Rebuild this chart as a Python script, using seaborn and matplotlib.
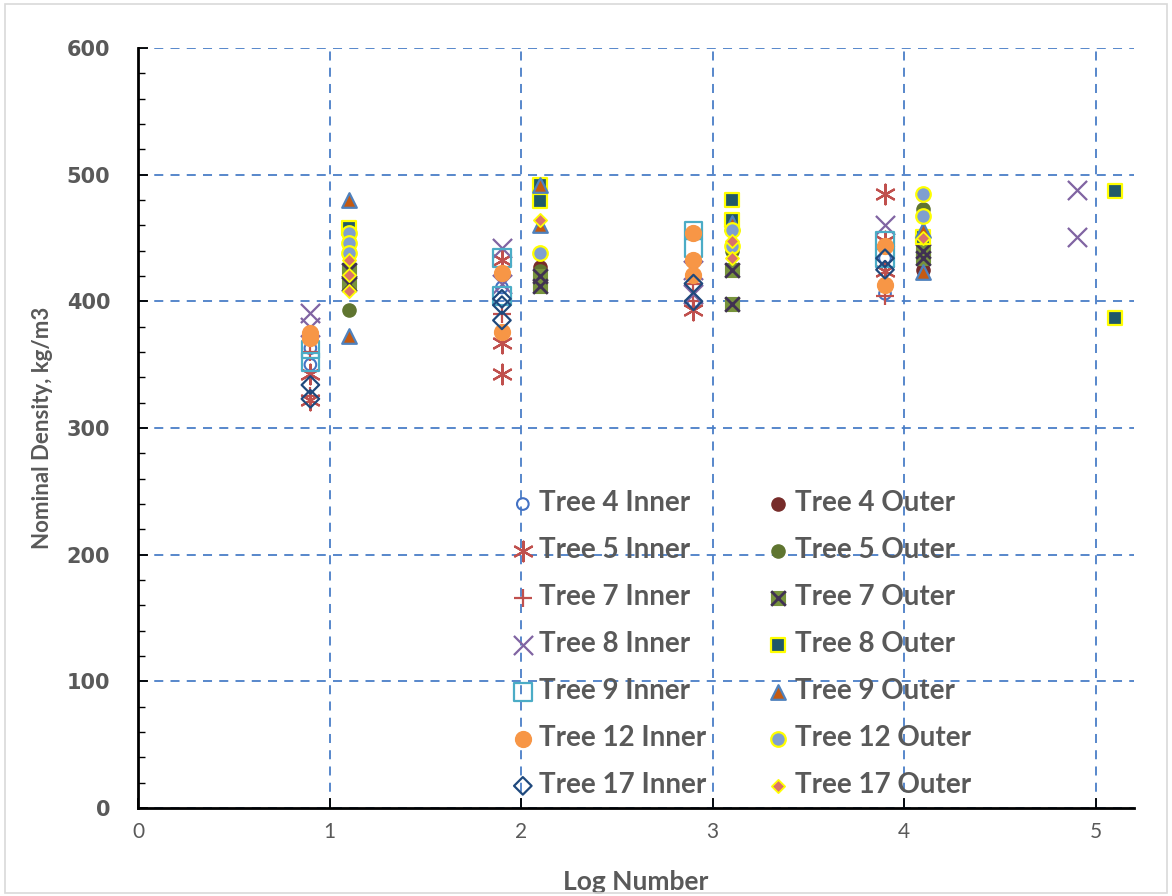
import matplotlib
matplotlib.use("Agg")
import matplotlib.pyplot as plt
import seaborn as sns
from matplotlib.legend_handler import HandlerTuple
from matplotlib.patches import Rectangle
from matplotlib.ticker import MultipleLocator

# ---------------- data ----------------
t4_in_x = [0.9, 0.9, 1.9, 2.9, 3.9, 3.9]
t4_in_y = [363, 350, 411, 400, 434, 406]
t5_in_x = [0.9, 0.9, 1.9, 1.9, 1.9, 2.9, 3.9, 3.9, 3.9]
t5_in_y = [343, 322, 433, 367, 343, 393, 485, 448, 424]
t7_in_x = [0.9, 0.9, 1.9, 2.9, 2.9, 3.9]
t7_in_y = [360, 325, 390, 414, 400, 404]
t8_in_x = [0.9, 0.9, 1.9, 1.9, 2.9, 2.9, 3.9, 4.9, 4.9]
t8_in_y = [391, 380, 442, 414, 425, 406, 460, 488, 451]
t9_in_x = [0.9, 0.9, 1.9, 1.9, 2.9, 2.9, 3.9, 3.9]
t9_in_y = [362, 352, 434, 404, 456, 442, 448, 434]
t12_in_x = [0.9, 0.9, 1.9, 1.9, 2.9, 2.9, 2.9, 3.9, 3.9]
t12_in_y = [375, 371, 422, 376, 454, 433, 421, 444, 413]
t17_in_x = [0.9, 0.9, 1.9, 1.9, 1.9, 2.9, 2.9, 3.9, 3.9]
t17_in_y = [334, 323, 402, 397, 385, 414, 400, 434, 425]

t4_out_x = [2.1, 4.1]
t4_out_y = [427, 425]
t5_out_x = [1.1, 2.1, 2.1, 3.1, 4.1, 4.1]
t5_out_y = [393, 424, 415, 440, 473, 437]
t7_out_x = [1.1, 1.1, 2.1, 2.1, 3.1, 3.1, 4.1, 4.1]
t7_out_y = [425, 414, 420, 412, 425, 398, 440, 434]
t8_out_x = [1.1, 2.1, 2.1, 3.1, 3.1, 4.1, 5.1, 5.1]
t8_out_y = [458, 492, 479, 480, 464, 451, 487, 387]
t9_out_x = [1.1, 1.1, 2.1, 2.1, 3.1, 4.1, 4.1]
t9_out_y = [480, 373, 492, 460, 462, 456, 423]
t12_out_x = [1.1, 1.1, 1.1, 2.1, 3.1, 3.1, 4.1, 4.1]
t12_out_y = [454, 446, 438, 438, 456, 444, 485, 467]
t17_out_x = [1.1, 1.1, 1.1, 2.1, 3.1, 3.1, 4.1]
t17_out_y = [433, 421, 408, 464, 448, 434, 450]

x_ticks = [0, 1, 2, 3, 4, 5]
y_ticks = [0, 100, 200, 300, 400, 500, 600]
x_label = "Log Number"
y_label = "Nominal Density, kg/m3"

# ---------------- figure ----------------
sns.set_theme(style="white")
plt.rcParams["font.family"] = ["Lato", "DejaVu Sans"]

fig = plt.figure(figsize=(11.72, 8.96), dpi=100)
ax = fig.add_axes([138 / 1172, 1 - 808 / 896, (1134 - 138) / 1172, (808 - 48) / 896])
fig.patches.append(Rectangle((0.004, 0.003), 0.992, 0.993, transform=fig.transFigure,
                             fill=False, edgecolor="#D9D9D9", linewidth=1.2))

grid_col = "#4A7EC7"
ax.grid(True, which="major", color=grid_col, linestyle=(0, (5, 4)), linewidth=1.3)
ax.set_axisbelow(True)

handles = {}

def draw(x, y, key, **kw):
    sns.scatterplot(x=x, y=y, ax=ax, legend=False, zorder=3, **kw)
    handles[key] = ax.collections[-1]

# series drawn in Excel order (interleaved inner/outer)
draw(t4_in_x, t4_in_y, "Tree 4 Inner", marker="o", s=70, facecolor="none",
     edgecolor="#4472C4", linewidth=1.5)
draw(t4_out_x, t4_out_y, "Tree 4 Outer", marker="o", s=90, color="#772C2A",
     edgecolor="#772C2A", linewidth=1)
draw(t5_in_x, t5_in_y, "Tree 5 Inner", marker=(6, 2, 0), s=200, color="#C0504D",
     linewidth=1.6)
draw(t5_out_x, t5_out_y, "Tree 5 Outer", marker="o", s=90, color="#5F7530",
     edgecolor="#5F7530", linewidth=1)
draw(t7_in_x, t7_in_y, "Tree 7 Inner", marker="+", s=170, color="#C0504D",
     linewidth=1.6)
draw(t7_out_x, t7_out_y, "Tree 7 Outer sq", marker="s", s=110, color="#77933C",
     edgecolor="#77933C", linewidth=0.8)
draw(t7_out_x, t7_out_y, "Tree 7 Outer x", marker="x", s=110, color="#403152",
     linewidth=2.0)
draw(t8_in_x, t8_in_y, "Tree 8 Inner", marker="x", s=190, color="#8064A2",
     linewidth=1.6)
draw(t8_out_x, t8_out_y, "Tree 8 Outer", marker="s", s=110, color="#215968",
     edgecolor="#FFFF00", linewidth=1.6)
draw(t9_in_x, t9_in_y, "Tree 9 Inner", marker="s", s=160, facecolor="none",
     edgecolor="#4BACC6", linewidth=1.6)
draw(t9_out_x, t9_out_y, "Tree 9 Outer", marker="^", s=110, color="#C55A11",
     edgecolor="#4F81BD", linewidth=1.6)
draw(t12_in_x, t12_in_y, "Tree 12 Inner", marker="o", s=130, color="#F79646",
     edgecolor="#F79646", linewidth=1)
draw(t12_out_x, t12_out_y, "Tree 12 Outer", marker="o", s=110, color="#7F9FD0",
     edgecolor="#FFFF00", linewidth=1.6)
draw(t17_in_x, t17_in_y, "Tree 17 Inner", marker="D", s=80, facecolor="none",
     edgecolor="#1F497D", linewidth=1.6)
draw(t17_out_x, t17_out_y, "Tree 17 Outer", marker="D", s=45, color="#D9726B",
     edgecolor="#FFFF00", linewidth=1.3)

inner_keys = ["Tree 4 Inner", "Tree 5 Inner", "Tree 7 Inner", "Tree 8 Inner",
              "Tree 9 Inner", "Tree 12 Inner", "Tree 17 Inner"]
outer_keys = ["Tree 4 Outer", "Tree 5 Outer", "Tree 7 Outer", "Tree 8 Outer",
              "Tree 9 Outer", "Tree 12 Outer", "Tree 17 Outer"]
leg_handles = [handles[k] for k in inner_keys]
for k in outer_keys:
    if k == "Tree 7 Outer":
        leg_handles.append((handles["Tree 7 Outer sq"], handles["Tree 7 Outer x"]))
    else:
        leg_handles.append(handles[k])
leg = ax.legend(leg_handles, inner_keys + outer_keys, ncol=2, frameon=False,
                loc="upper left", bbox_to_anchor=(0.378, 0.418),
                handler_map={tuple: HandlerTuple(ndivide=1, pad=0)},
                prop={"family": ["Lato", "DejaVu Sans"], "weight": "bold", "size": 20},
                labelcolor="#595959", handlelength=0.6, handletextpad=0.28,
                labelspacing=0.755, columnspacing=2.3, borderaxespad=0, borderpad=0)
leg.set_zorder(5)

ax.set_xlim(0, 5.2)
ax.set_ylim(0, 600)
ax.set_xticks(x_ticks)
ax.set_yticks(y_ticks)
ax.yaxis.set_minor_locator(MultipleLocator(20))
ax.tick_params(axis="y", which="major", direction="in", length=7, width=1.3,
               color="black", left=True, labelsize=15, labelcolor="#595959", pad=20)
ax.tick_params(axis="y", which="minor", direction="in", length=5, width=1.0,
               color="black", left=True)
ax.tick_params(axis="x", which="major", direction="in", length=7, width=1.3,
               color="black", bottom=True, labelsize=15, labelcolor="#595959", pad=10)
for lab in ax.get_yticklabels():
    lab.set_fontweight("bold")
    lab.set_family(["DejaVu Sans"])

for side in ["top", "right"]:
    ax.spines[side].set_visible(False)
for side in ["left", "bottom"]:
    ax.spines[side].set_color("black")
    ax.spines[side].set_linewidth(2.0)

ax.set_xlabel(x_label, fontsize=19, fontweight="bold", color="#595959", labelpad=20)
ax.set_ylabel(y_label, fontsize=16, fontweight="bold", color="#595959", labelpad=10)

fig.savefig("out.png", dpi=100)
